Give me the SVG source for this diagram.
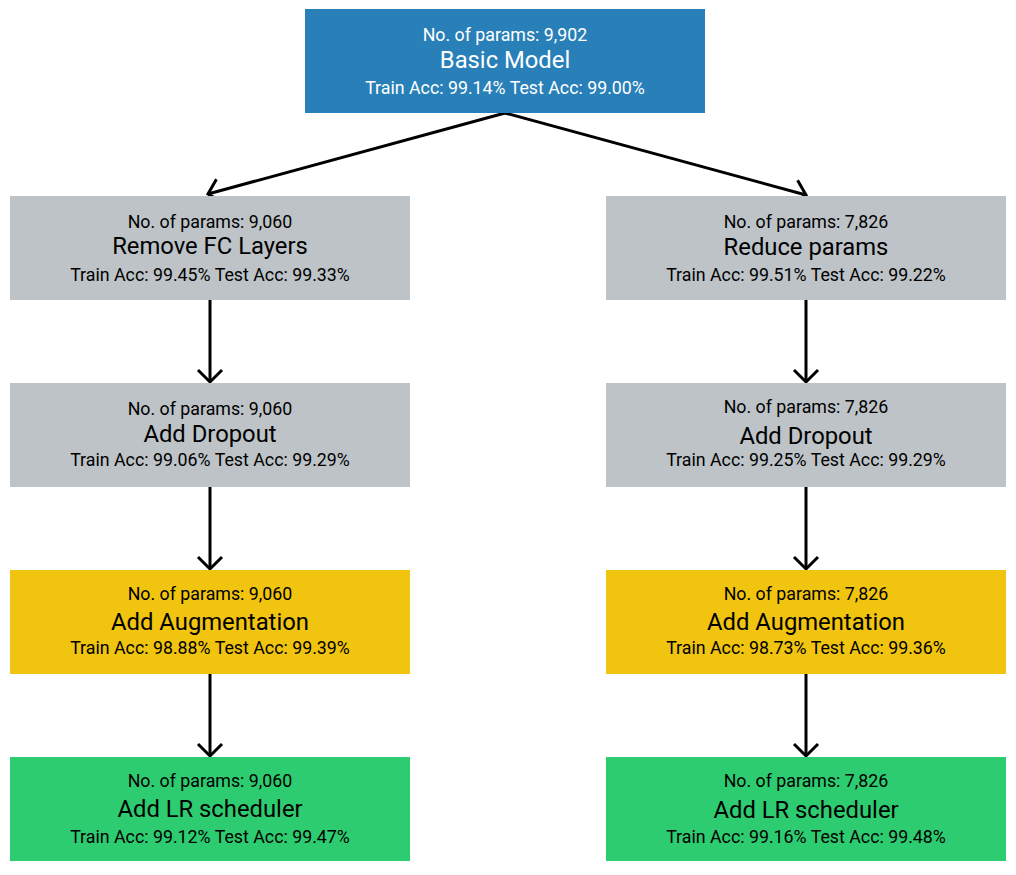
<svg xmlns="http://www.w3.org/2000/svg" width="1016" height="875" viewBox="0 0 1016 875">
<style>
text{font-family:Roboto,"Liberation Sans",sans-serif;text-anchor:middle;fill:#000}
.s{font-size:17.8px}
.t{font-size:23.8px}
.w text{fill:#fff}
.blue{fill:#2980b9}
.gray{fill:#bdc3c7}
.yel{fill:#f1c40f}
.grn{fill:#2ecc71}
.c{stroke:#000;stroke-width:3;fill:none;marker-end:url(#ah)}
</style>
<defs>
<marker id="ah" markerUnits="userSpaceOnUse" markerWidth="30" markerHeight="30" refX="14" refY="15" orient="auto" viewBox="0 0 30 30">
<path d="M2,3 L14,15 L2,27" fill="none" stroke="#000" stroke-width="3"/>
</marker>
</defs>
<rect width="1016" height="875" fill="#fff"/>
<g id="connectors">
<line class="c" x1="505" y1="113" x2="208" y2="194"/>
<line class="c" x1="505" y1="113" x2="806" y2="195"/>
<line class="c" x1="210" y1="300" x2="210" y2="382"/>
<line class="c" x1="210" y1="487" x2="210" y2="569"/>
<line class="c" x1="210" y1="674" x2="210" y2="756"/>
<line class="c" x1="806" y1="300" x2="806" y2="382"/>
<line class="c" x1="806" y1="487" x2="806" y2="569"/>
<line class="c" x1="806" y1="674" x2="806" y2="756"/>
</g>
<g id="basic" class="w">
<rect class="blue" x="305" y="9" width="400" height="104"/>
<text class="s" x="505" y="41">No. of params: 9,902</text>
<text class="t" x="505" y="68">Basic Model</text>
<text class="s" x="505" y="94">Train Acc: 99.14% Test Acc: 99.00%</text>
</g>
<g id="removeFC">
<rect class="gray" x="10" y="196" width="400" height="104"/>
<text class="s" x="210" y="228">No. of params: 9,060</text>
<text class="t" x="210" y="254">Remove FC Layers</text>
<text class="s" x="210" y="281">Train Acc: 99.45% Test Acc: 99.33%</text>
</g>
<g id="reduceParams">
<rect class="gray" x="606" y="196" width="400" height="104"/>
<text class="s" x="806" y="228">No. of params: 7,826</text>
<text class="t" x="806" y="255">Reduce params</text>
<text class="s" x="806" y="281">Train Acc: 99.51% Test Acc: 99.22%</text>
</g>
<g id="dropoutL">
<rect class="gray" x="10" y="383" width="400" height="104"/>
<text class="s" x="210" y="415">No. of params: 9,060</text>
<text class="t" x="210" y="442">Add Dropout</text>
<text class="s" x="210" y="466">Train Acc: 99.06% Test Acc: 99.29%</text>
</g>
<g id="dropoutR">
<rect class="gray" x="606" y="383" width="400" height="104"/>
<text class="s" x="806" y="413">No. of params: 7,826</text>
<text class="t" x="806" y="444">Add Dropout</text>
<text class="s" x="806" y="466">Train Acc: 99.25% Test Acc: 99.29%</text>
</g>
<g id="augL">
<rect class="yel" x="10" y="570" width="400" height="104"/>
<text class="s" x="210" y="600">No. of params: 9,060</text>
<text class="t" x="210" y="630">Add Augmentation</text>
<text class="s" x="210" y="654">Train Acc: 98.88% Test Acc: 99.39%</text>
</g>
<g id="augR">
<rect class="yel" x="606" y="570" width="400" height="104"/>
<text class="s" x="806" y="600">No. of params: 7,826</text>
<text class="t" x="806" y="630">Add Augmentation</text>
<text class="s" x="806" y="654">Train Acc: 98.73% Test Acc: 99.36%</text>
</g>
<g id="lrL">
<rect class="grn" x="10" y="757" width="400" height="104"/>
<text class="s" x="210" y="787">No. of params: 9,060</text>
<text class="t" x="210" y="817">Add LR scheduler</text>
<text class="s" x="210" y="843">Train Acc: 99.12% Test Acc: 99.47%</text>
</g>
<g id="lrR">
<rect class="grn" x="606" y="757" width="400" height="104"/>
<text class="s" x="806" y="787">No. of params: 7,826</text>
<text class="t" x="806" y="818">Add LR scheduler</text>
<text class="s" x="806" y="843">Train Acc: 99.16% Test Acc: 99.48%</text>
</g>
</svg>
